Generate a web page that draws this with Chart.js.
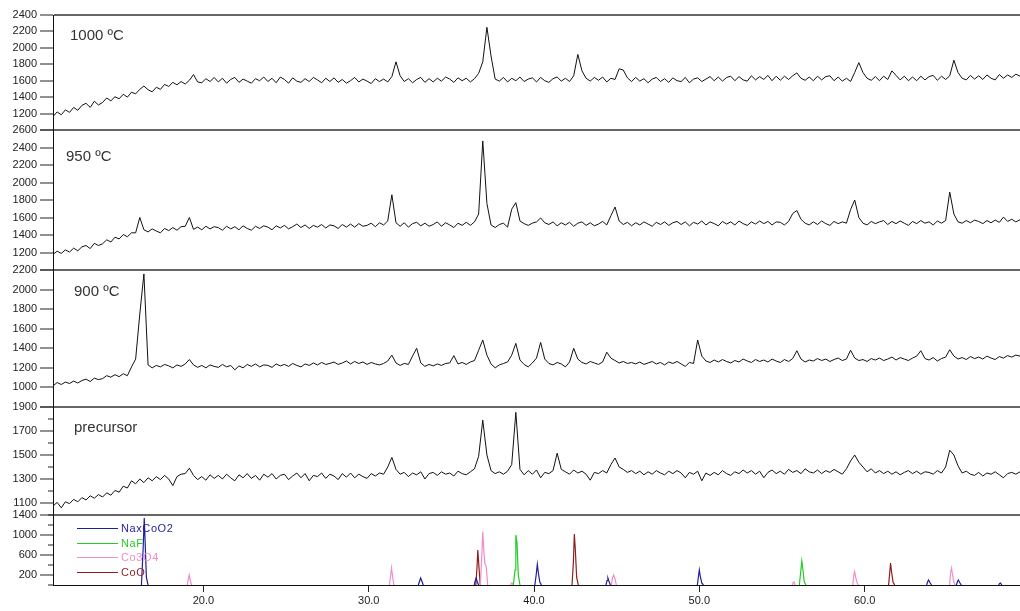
<!DOCTYPE html>
<html lang="en">
<head>
<meta charset="UTF-8">
<title>XRD patterns</title>
<script src="https://cdn.jsdelivr.net/npm/chart.js"></script>
<style>
  html, body { margin: 0; padding: 0; background: #fff; }
  canvas { display: block; }
</style>
</head>
<body>
<canvas id="xrd" width="1020" height="611"></canvas>
<script>
// 2-theta grid of the measured patterns: starts at 10.9 deg, 0.25 deg steps
// (each row below is one degree, 4 readings)
const thetaStart = 10.9;
const thetaStep = 0.25;
const xTickValues = [20, 30, 40, 50, 60];

const panelNames = ['1000 ºC', '950 ºC', '900 ºC', 'precursor'];

const counts1000 = [
  1165, 1220, 1185, 1245,  1215, 1275, 1240, 1300,  1325, 1275, 1350, 1305,
  1335, 1390, 1355, 1405,  1380, 1435, 1400, 1460,  1440, 1495, 1535, 1490,
  1465, 1520, 1495, 1555,  1530, 1580, 1550, 1590,  1560, 1605, 1675, 1585,
  1575, 1625, 1590, 1640,  1585, 1630, 1570, 1615,  1640, 1580, 1620, 1595,
  1570, 1625, 1600, 1645,  1590, 1630, 1575, 1645,  1615, 1570, 1635, 1595,
  1580, 1625, 1590, 1640,  1610, 1575, 1630, 1590,  1635, 1580, 1615, 1570,
  1600, 1640, 1585, 1620,  1595, 1565, 1625, 1590,  1620, 1585, 1650, 1830,
  1660, 1590, 1625, 1575,  1615, 1640, 1580, 1625,  1585, 1630, 1595, 1645,
  1620, 1580, 1635, 1600,  1630, 1585, 1625, 1690,  1830, 2250, 1900, 1620,
  1595, 1640, 1585, 1630,  1600, 1645, 1590, 1620,  1635, 1585, 1640, 1600,
  1580, 1625, 1645, 1595,  1630, 1590, 1660, 1920,  1720, 1630, 1595, 1640,
  1605, 1645, 1585, 1630,  1615, 1745, 1730, 1635,  1590, 1640, 1595, 1625,
  1575, 1620, 1640, 1590,  1625, 1580, 1635, 1600,  1590, 1640, 1575, 1620,
  1635, 1590, 1620, 1650,  1600, 1645, 1595, 1640,  1655, 1600, 1650, 1610,
  1595, 1660, 1610, 1650,  1615, 1665, 1600, 1655,  1605, 1655, 1615, 1660,
  1695, 1630, 1605, 1645,  1600, 1655, 1610, 1650,  1660, 1600, 1645, 1595,
  1630, 1590, 1700, 1820,  1700, 1630, 1605, 1650,  1600, 1655, 1615, 1720,
  1665, 1610, 1655, 1600,  1645, 1600, 1655, 1610,  1650, 1665, 1605, 1655,
  1615, 1660, 1850, 1700,  1630, 1610, 1665, 1620,  1660, 1615, 1670, 1630,
  1610, 1675, 1630, 1670,  1640, 1680, 1655, 1670
];

const counts950 = [
  1180, 1215, 1190, 1230,  1205, 1250, 1220, 1265,  1280, 1245, 1305, 1280,
  1300, 1345, 1320, 1375,  1355, 1405, 1380, 1425,  1425, 1600, 1460, 1435,
  1470, 1445, 1425, 1475,  1450, 1485, 1455, 1495,  1500, 1600, 1465, 1490,
  1460, 1500, 1470, 1495,  1485, 1455, 1500, 1470,  1495, 1460, 1505, 1475,
  1455, 1500, 1475, 1505,  1490, 1460, 1505, 1480,  1510, 1470, 1495, 1525,
  1485, 1515, 1475, 1510,  1490, 1520, 1480, 1515,  1505, 1475, 1520, 1490,
  1525, 1490, 1530, 1500,  1510, 1535, 1495, 1540,  1515, 1560, 1860, 1540,
  1500, 1540, 1490, 1530,  1545, 1505, 1535, 1500,  1520, 1550, 1500, 1540,
  1515, 1485, 1535, 1510,  1545, 1510, 1550, 1640,  2475, 1760, 1515, 1485,
  1520, 1535, 1490, 1695,  1770, 1560, 1530, 1510,  1535, 1550, 1595, 1540,
  1520, 1550, 1505, 1540,  1515, 1545, 1500, 1535,  1550, 1510, 1540, 1505,
  1525, 1555, 1515, 1620,  1720, 1560, 1520, 1545,  1505, 1540, 1515, 1550,
  1525, 1500, 1545, 1520,  1550, 1510, 1540, 1555,  1520, 1550, 1505, 1545,
  1525, 1560, 1515, 1550,  1530, 1505, 1555, 1525,  1550, 1515, 1560, 1530,
  1510, 1550, 1525, 1560,  1530, 1555, 1515, 1550,  1545, 1515, 1555, 1645,
  1680, 1580, 1535, 1515,  1550, 1520, 1560, 1530,  1510, 1555, 1530, 1550,
  1535, 1690, 1800, 1600,  1535, 1515, 1555, 1530,  1550, 1565, 1520, 1555,
  1530, 1560, 1535, 1510,  1555, 1530, 1565, 1535,  1550, 1515, 1560, 1535,
  1565, 1890, 1640, 1550,  1535, 1565, 1540, 1570,  1555, 1530, 1565, 1540,
  1570, 1545, 1605, 1555,  1580, 1550, 1575, 1565
];

const counts900 = [
  1015, 1050, 1030, 1055,  1040, 1065, 1045, 1070,  1085, 1060, 1095, 1080,
  1090, 1120, 1105, 1130,  1110, 1140, 1120, 1210,  1290, 1750, 2160, 1230,
  1200, 1225, 1210, 1235,  1220, 1200, 1230, 1215,  1240, 1285, 1230, 1205,
  1225, 1200, 1230, 1215,  1205, 1235, 1210, 1225,  1180, 1220, 1200, 1235,
  1215, 1240, 1210, 1230,  1225, 1205, 1240, 1220,  1235, 1215, 1245, 1225,
  1210, 1240, 1225, 1250,  1230, 1255, 1235, 1245,  1260, 1235, 1250, 1270,
  1240, 1265, 1245, 1260,  1235, 1255, 1240, 1230,  1245, 1270, 1330, 1250,
  1225, 1245, 1235, 1320,  1400, 1250, 1215, 1235,  1220, 1240, 1225, 1245,
  1250, 1325, 1240, 1255,  1235, 1260, 1275, 1380,  1485, 1330, 1240, 1200,
  1230, 1245, 1260, 1330,  1450, 1280, 1235, 1210,  1250, 1300, 1460, 1290,
  1245, 1230, 1255, 1240,  1210, 1260, 1400, 1290,  1255, 1240, 1265, 1250,
  1235, 1260, 1360, 1300,  1275, 1250, 1265, 1245,  1255, 1240, 1260, 1235,
  1250, 1265, 1240, 1255,  1230, 1260, 1245, 1265,  1240, 1215, 1255, 1245,
  1485, 1320, 1270, 1255,  1280, 1260, 1285, 1265,  1250, 1275, 1260, 1290,
  1270, 1255, 1285, 1265,  1280, 1260, 1290, 1270,  1255, 1285, 1265, 1295,
  1375, 1290, 1260, 1280,  1270, 1295, 1275, 1290,  1265, 1285, 1300, 1275,
  1290, 1380, 1300, 1275,  1285, 1265, 1295, 1280,  1300, 1275, 1290, 1310,
  1280, 1305, 1290, 1275,  1300, 1320, 1375, 1295,  1280, 1305, 1270, 1295,
  1310, 1385, 1320, 1290,  1305, 1285, 1315, 1295,  1310, 1290, 1320, 1300,
  1285, 1315, 1300, 1325,  1310, 1330, 1320, 1325
];

const countsPrecursor = [
  1075, 1105, 1060, 1110,  1095, 1130, 1110, 1145,  1125, 1160, 1140, 1170,
  1150, 1185, 1165, 1205,  1190, 1240, 1225, 1285,  1260, 1300, 1270, 1310,
  1285, 1320, 1295, 1330,  1300, 1245, 1320, 1340,  1345, 1390, 1330, 1295,
  1320, 1290, 1335, 1305,  1330, 1300, 1340, 1310,  1285, 1335, 1310, 1345,
  1305, 1330, 1290, 1340,  1315, 1345, 1300, 1330,  1340, 1295, 1325, 1350,
  1310, 1345, 1285, 1330,  1320, 1350, 1305, 1340,  1325, 1295, 1345, 1315,
  1350, 1310, 1340, 1320,  1305, 1345, 1325, 1350,  1340, 1400, 1480, 1380,
  1340, 1355, 1320, 1350,  1335, 1360, 1300, 1345,  1355, 1330, 1360, 1340,
  1350, 1325, 1365, 1345,  1335, 1360, 1385, 1490,  1790, 1500, 1370, 1345,
  1360, 1340, 1365, 1420,  1855, 1380, 1335, 1370,  1340, 1375, 1310, 1355,
  1345, 1370, 1515, 1380,  1360, 1340, 1375, 1350,  1365, 1340, 1290, 1355,
  1345, 1370, 1350, 1420,  1475, 1400, 1380, 1355,  1370, 1345, 1365, 1335,
  1360, 1340, 1370, 1350,  1335, 1365, 1345, 1370,  1350, 1310, 1355, 1340,
  1365, 1285, 1350, 1330,  1355, 1335, 1370, 1345,  1330, 1360, 1345, 1375,
  1350, 1370, 1340, 1365,  1310, 1355, 1375, 1345,  1365, 1340, 1380, 1355,
  1370, 1345, 1385, 1360,  1350, 1375, 1345, 1370,  1355, 1380, 1360, 1340,
  1385, 1450, 1500, 1440,  1400, 1360, 1385, 1350,  1370, 1345, 1365, 1340,
  1360, 1335, 1355, 1370,  1345, 1365, 1340, 1360,  1355, 1340, 1370, 1350,
  1400, 1540, 1500, 1410,  1350, 1365, 1340, 1330,  1355, 1325, 1350, 1340,
  1360, 1335, 1310, 1345,  1355, 1340, 1360, 1350
];

// reference patterns: [2theta, intensity] pairs, null = gap between peaks
const phaseNames = ['NaxCoO2', 'NaF', 'Co3O4', 'CoO'];
const phaseColors = ['#1f1f9a', '#22cc22', '#f08ec6', '#8e1e1e'];

const refNaxCoO2 = [
  [16.25, 0], [16.35, 700], [16.42, 1340], [16.47, 900], [16.55, 150], [16.65, 0], null,
  [33.0, 0], [33.08, 80], [33.14, 140], [33.2, 90], [33.3, 0], null,
  [36.38, 0], [36.45, 90], [36.5, 140], [36.56, 70], [36.65, 0], null,
  [40.05, 0], [40.13, 200], [40.2, 413], [40.26, 250], [40.35, 60], [40.45, 0], null,
  [44.35, 0], [44.42, 90], [44.47, 140], [44.53, 80], [44.62, 0], null,
  [49.88, 0], [49.95, 180], [50.0, 300], [50.06, 170], [50.15, 40], [50.25, 0], null,
  [63.75, 0], [63.82, 70], [63.87, 100], [63.95, 50], [64.05, 0], null,
  [65.55, 0], [65.62, 70], [65.67, 100], [65.75, 50], [65.85, 0], null,
  [68.1, 0], [68.17, 30], [68.22, 40], [68.3, 0]
];
const refNaF = [
  [38.75, 0], [38.85, 300], [38.9, 1000], [38.97, 850], [39.05, 200], [39.15, 0], null,
  [56.05, 0], [56.13, 250], [56.2, 480], [56.27, 300], [56.35, 60], [56.45, 0]
];
const refCo3O4 = [
  [19.02, 0], [19.09, 120], [19.14, 200], [19.2, 100], [19.28, 0], null,
  [31.25, 0], [31.33, 200], [31.38, 340], [31.44, 180], [31.52, 0], null,
  [36.75, 0], [36.83, 500], [36.9, 1067], [36.96, 700], [37.03, 420], [37.1, 380], [37.2, 0], null,
  [38.58, 0], [38.64, 40], [38.7, 30], [38.76, 0], null,
  [44.68, 0], [44.75, 150], [44.82, 200], [44.9, 120], [44.98, 0], null,
  [55.62, 0], [55.68, 50], [55.73, 60], [55.8, 0], null,
  [59.28, 0], [59.35, 200], [59.4, 270], [59.46, 150], [59.55, 40], [59.62, 0], null,
  [65.14, 0], [65.2, 250], [65.26, 340], [65.32, 200], [65.4, 60], [65.48, 0]
];
const refCoO = [
  [36.48, 0], [36.55, 350], [36.6, 700], [36.66, 400], [36.75, 0], null,
  [42.3, 0], [42.38, 450], [42.44, 1020], [42.5, 700], [42.58, 150], [42.68, 0], null,
  [61.45, 0], [61.52, 250], [61.57, 440], [61.63, 260], [61.72, 60], [61.82, 0]
];

const panelIds = ['y1000', 'y950', 'y900', 'yPre'];
const panelCounts = [counts1000, counts950, counts900, countsPrecursor];
const refSets = [refNaxCoO2, refNaF, refCo3O4, refCoO];

function toPoints(counts) {
  return counts.map((v, i) => ({ x: thetaStart + i * thetaStep, y: v }));
}
function refPoints(pairs) {
  let lastX = pairs[0][0];
  return pairs.map(p => {
    if (p === null) return { x: lastX, y: null };
    lastX = p[0];
    return { x: p[0], y: p[1] };
  });
}

const datasets = panelCounts.map((counts, i) => ({
  label: panelNames[i],
  data: toPoints(counts),
  yAxisID: panelIds[i],
  borderColor: '#111',
  borderWidth: 1
}));
refSets.forEach((pairs, i) => {
  datasets.push({
    label: phaseNames[i],
    data: refPoints(pairs),
    yAxisID: 'yRef',
    borderColor: phaseColors[i],
    borderWidth: 1.2
  });
});

const tickFont = { family: 'Arial, "Liberation Sans", sans-serif', size: 11 };

function panelScale(min, max, step, weight, showLabel, isMinor) {
  return {
    type: 'linear',
    position: 'left',
    stack: 'xrd',
    stackWeight: weight,
    min: min,
    max: max,
    ticks: {
      stepSize: step,
      autoSkip: false,
      color: '#222',
      font: tickFont,
      padding: 3,
      callback: v => (v !== min && showLabel(v)) ? String(v) : ''
    },
    grid: {
      color: c => (c.tick && c.tick.value === max) ? '#666' : 'rgba(0,0,0,0)',
      lineWidth: 2,
      tickLength: 13,
      tickColor: '#222',
      tickWidth: 1,
      // minor ticks: only the 5px next to the axis line
      tickBorderDash: c => (c.tick && isMinor(c.tick.value)) ? [0, 8, 5, 100] : []
    },
    border: { color: '#111', width: 1 },
    afterFit: s => { s.width = 53; }
  };
}

// labels drawn inside the panels and the legend of the reference patterns
const panelText = {
  id: 'panelText',
  afterDatasetsDraw(chart) {
    const ctx = chart.ctx;
    const left = chart.chartArea.left;
    const offs = [[17, 21], [13, 27], [21, 22], [21, 21]];
    ctx.save();
    ctx.textBaseline = 'middle';
    ctx.font = '15px Arial, "Liberation Sans", sans-serif';
    ctx.fillStyle = '#333';
    panelIds.forEach((id, i) => {
      ctx.fillText(panelNames[i], left + offs[i][0], chart.scales[id].top + offs[i][1]);
    });
    const ref = chart.scales.yRef;
    ctx.font = '11px Arial, "Liberation Sans", sans-serif';
    ctx.letterSpacing = '0.6px';
    phaseNames.forEach((name, i) => {
      const y = Math.round(ref.top + 13 + i * 14.5) + 0.5;
      ctx.strokeStyle = phaseColors[i];
      ctx.lineWidth = 1;
      ctx.beginPath();
      ctx.moveTo(left + 24, y);
      ctx.lineTo(left + 65, y);
      ctx.stroke();
      ctx.fillStyle = phaseColors[i];
      ctx.fillText(name, left + 68, y);
    });
    ctx.restore();
  }
};

new Chart(document.getElementById('xrd'), {
  type: 'line',
  data: { datasets: datasets },
  options: {
    responsive: false,
    animation: false,
    devicePixelRatio: 1,
    layout: { padding: { top: 15, left: 0, right: 0, bottom: 0 } },
    plugins: { legend: { display: false }, tooltip: { enabled: false } },
    elements: { point: { radius: 0 }, line: { tension: 0 } },
    scales: {
      x: {
        type: 'linear',
        position: 'bottom',
        min: 10.9,
        max: 69.4,
        bounds: 'data',
        afterBuildTicks: s => { s.ticks = xTickValues.map(v => ({ value: v })); },
        ticks: {
          autoSkip: false,
          maxRotation: 0,
          color: '#222',
          font: tickFont,
          padding: 2,
          callback: v => v.toFixed(1)
        },
        grid: { drawOnChartArea: false, tickLength: 7, tickColor: '#222' },
        border: { color: '#111', width: 1 },
        afterFit: s => { s.height = 26; }
      },
      yRef: panelScale(0, 1400, 200, 70, v => v % 400 === 200, v => v % 400 === 0),
      yPre: panelScale(1000, 1900, 100, 108, v => v % 200 === 100, v => v % 200 === 0),
      y900: panelScale(800, 2200, 200, 137, () => true, () => false),
      y950: panelScale(1000, 2600, 200, 140, () => true, () => false),
      y1000: panelScale(1000, 2400, 200, 115, () => true, () => false)
    }
  },
  plugins: [panelText]
});
</script>
</body>
</html>
